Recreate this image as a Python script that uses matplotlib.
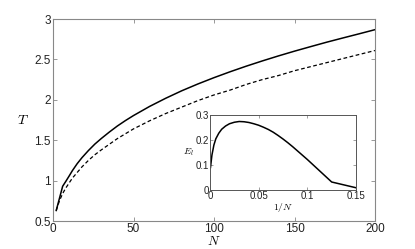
import matplotlib
matplotlib.use("Agg")
import matplotlib.pyplot as plt

# Main plot data
N_solid = [2, 6, 8, 10, 12, 15, 18, 22, 26, 30, 35, 40, 45, 50, 60, 70, 80, 90,
           100, 110, 120, 130, 140, 150, 160, 170, 180, 190, 200]
T_solid = [0.630, 0.930, 0.992, 1.056, 1.122, 1.209, 1.284, 1.372, 1.452, 1.521,
           1.601, 1.676, 1.743, 1.805, 1.918, 2.019, 2.112, 2.196, 2.274, 2.347,
           2.416, 2.481, 2.543, 2.602, 2.658, 2.713, 2.765, 2.816, 2.868]
N_dashed = [2, 4, 6, 8, 10, 12, 15, 18, 22, 26, 30, 35, 40, 45, 50, 60, 70, 80, 90,
            100, 110, 120, 130, 140, 150, 160, 170, 180, 190, 200]
T_dashed = [0.63, 0.75, 0.84, 0.91, 0.97, 1.03, 1.10, 1.17, 1.25, 1.32, 1.38, 1.45,
            1.52, 1.58, 1.64, 1.74, 1.83, 1.91, 1.99, 2.06, 2.12, 2.19, 2.25, 2.30,
            2.36, 2.41, 2.46, 2.51, 2.56, 2.61]

# Inset data
invN = [0.0005, 0.002, 0.004, 0.006, 0.009, 0.012, 0.016, 0.020, 0.025, 0.030,
        0.035, 0.040, 0.045, 0.050, 0.055, 0.060, 0.065, 0.070, 0.075, 0.080,
        0.085, 0.090, 0.095, 0.100, 0.105, 0.110, 0.115, 0.120, 0.125, 0.150]
E_l = [0.090, 0.140, 0.180, 0.205, 0.227, 0.243, 0.256, 0.265, 0.271, 0.274,
       0.273, 0.270, 0.265, 0.259, 0.251, 0.242, 0.231, 0.218, 0.204, 0.189,
       0.173, 0.156, 0.139, 0.122, 0.104, 0.086, 0.068, 0.050, 0.032, 0.009]

main_xticks = [0, 50, 100, 150, 200]
main_yticks = [0.5, 1, 1.5, 2, 2.5, 3]
main_yticklabels = ['0.5', '1', '1.5', '2', '2.5', '3']
inset_xticks = [0, 0.05, 0.1, 0.15]
inset_xticklabels = ['0', '0.05', '0.1', '0.15']
inset_yticks = [0, 0.1, 0.2, 0.3]
inset_yticklabels = ['0', '0.1', '0.2', '0.3']

plt.rcParams['font.family'] = ['Liberation Sans', 'DejaVu Sans']
plt.rcParams['mathtext.fontset'] = 'cm'

fig = plt.figure(figsize=(4.15, 2.49), dpi=100)
ax = fig.add_axes([53/415, 1-221/249, (375-53)/415, (221-19)/249])

ax.plot(N_solid, T_solid, color='black', lw=1.1)
ax.plot(N_dashed, T_dashed, color='black', lw=0.9, ls=(0, (3, 2)))
ax.set_xlim(0, 200)
ax.set_ylim(0.5, 3)
ax.set_xticks(main_xticks)
ax.set_yticks(main_yticks)
ax.set_xticklabels([str(v) for v in main_xticks])
ax.set_yticklabels(main_yticklabels)
ax.tick_params(direction='in', length=3, width=0.6, top=True, right=True,
               labelsize=8.5, pad=1.5, color='#888888', labelcolor='#222222')
for s in ax.spines.values():
    s.set_color('#888888')
    s.set_linewidth(0.8)
ax.set_xlabel('$N$', fontsize=9.5, labelpad=0)
ax.set_ylabel('$T$', fontsize=10, rotation=0, labelpad=8, va='center')

ins = fig.add_axes([210/415, 1-190/249, (356-210)/415, (190-115)/249])
ins.plot(invN, E_l, color='black', lw=1.1)
ins.set_xlim(0, 0.15)
ins.set_ylim(0, 0.3)
ins.set_xticks(inset_xticks)
ins.set_yticks(inset_yticks)
ins.set_xticklabels(inset_xticklabels)
ins.set_yticklabels(inset_yticklabels)
ins.tick_params(direction='in', length=2.5, width=0.5, top=True, right=True,
                labelsize=7, pad=1, color='#777777', labelcolor='#222222')
for s in ins.spines.values():
    s.set_color('#555555')
    s.set_linewidth(0.7)
ins.set_xlabel('$1/N$', fontsize=7, labelpad=0)
ins.set_ylabel('$E_l$', fontsize=7, rotation=0, labelpad=5, va='center')

fig.savefig('out.png', dpi=100)
